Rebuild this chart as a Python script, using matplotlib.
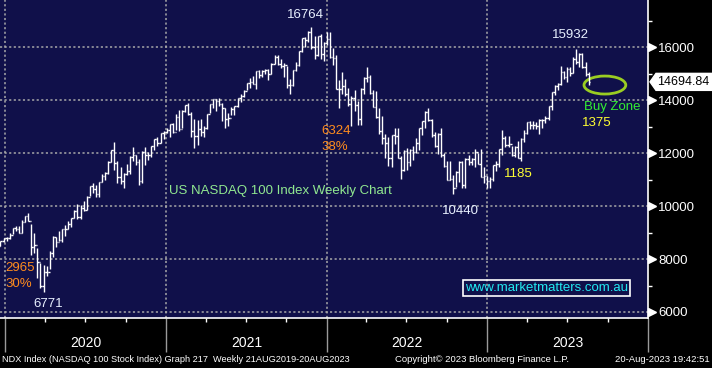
import numpy as np
import pandas as pd
import matplotlib
matplotlib.use('Agg')
import matplotlib.pyplot as plt
import matplotlib.dates as mdates
import matplotlib.transforms as mtransforms
from matplotlib.patches import Ellipse, Polygon

plt.rcParams['font.family'] = ['Liberation Sans', 'DejaVu Sans']

# weekly NDX bars (week ending Friday), high / low / close
high_2019 = [8500, 8690, 8780]
low_2019 = [8340, 8480, 8660]
close_2019 = [8475, 8666, 8778]

high_2020 = [8850, 8970, 9180, 9260, 9250, 9460, 9620, 9740, 9320, 9000, 8400, 7850, 7780,
             7750, 8300, 8870, 8850, 9070, 9150, 9290, 9420, 9560, 9840, 10090, 10060, 10180,
             10370, 10770, 10890, 10780, 10910, 11210, 11290, 11700, 12130, 12440, 11700, 11470,
             11240, 11580, 11880, 12250, 11950, 11790, 12100, 12230, 12060, 12270, 12530, 12600,
             12770, 12850]
low_2020 = [8690, 8740, 8930, 9070, 8980, 8970, 9390, 9420, 8160, 8220, 7280, 6910, 6771,
            7360, 7640, 8090, 8470, 8700, 8660, 8890, 9140, 9200, 9540, 9500, 9500, 9830,
            9850, 10370, 10500, 10360, 10340, 10900, 10990, 11210, 11680, 11350, 10880, 10850,
            10680, 11170, 11230, 11720, 11560, 10790, 10880, 11550, 11750, 11870, 12120, 12270,
            12400, 12550]
close_2020 = [8794, 8912, 9173, 9142, 8991, 9402, 9623, 9446, 8462, 8530, 7873, 6994, 7502,
              7528, 8230, 8832, 8634, 8718, 9121, 9152, 9325, 9555, 9814, 9588, 9946, 9849,
              10341, 10767, 10646, 10461, 10905, 11139, 11248, 11665, 12110, 11626, 11087, 10936,
              11201, 11326, 11853, 11924, 11666, 10937, 12042, 11938, 11939, 12258, 12528, 12378,
              12755, 12805]

high_2021 = [12940, 13110, 13130, 13480, 13620, 13620, 13810, 13880, 13540, 13300, 13240, 13290,
             13010, 13480, 13850, 14060, 14050, 14090, 13880, 13700, 13500, 13750, 13790, 14080,
             14220, 14400, 14660, 14830, 14920, 15120, 15160, 15130, 15170, 15190, 15400, 15700,
             15700, 15560, 15420, 15290, 14790, 15150, 15450, 15860, 16360, 16400, 16600, 16764,
             16440, 16420, 16500, 16200, 16570]
low_2021 = [12750, 12600, 12780, 12860, 12850, 12940, 13560, 13430, 12600, 12210, 12300, 12650,
            12600, 12900, 13510, 13700, 13600, 13790, 13200, 12950, 13020, 13450, 13450, 13750,
            13950, 14130, 14370, 14480, 14600, 14440, 14850, 14880, 14990, 14780, 14980, 15360,
            15350, 15230, 14870, 14450, 14250, 14530, 15110, 15280, 15810, 16030, 16200, 15950,
            15560, 15690, 15560, 15480, 16100]
close_2021 = [12888, 13105, 12803, 13366, 12925, 13612, 13807, 13474, 12842, 12668, 12920, 12816,
              12942, 13480, 13845, 14041, 13968, 13860, 13720, 13310, 13345, 13687, 13770, 14069,
              14142, 14360, 14639, 14692, 14628, 15110, 14959, 15100, 15145, 15010, 15370, 15653,
              15368, 15300, 15314, 14566, 14580, 15146, 15335, 15850, 16344, 16274, 16573, 16026,
              15712, 16410, 15750, 16160, 16320]

high_2022 = [16580, 15960, 15700, 14750, 15050, 14800, 14450, 14150, 14380, 13960, 14450, 14860,
             15270, 14950, 14380, 14350, 13700, 13420, 12720, 12630, 12700, 12950, 12950, 11880,
             12130, 12200, 12160, 12260, 12590, 12970, 13230, 13580, 13720, 13280, 12810, 12780,
             12950, 12010, 11720, 11690, 11170, 11320, 11700, 11700, 11830, 11920, 11820, 12170,
             12000, 12170, 11470, 11140]
low_2022 = [15580, 15350, 14430, 13725, 14250, 14150, 13780, 13020, 13590, 13050, 13050, 14250,
            14700, 14230, 13730, 13340, 12720, 12350, 11830, 11510, 11470, 12330, 11820, 11040,
            11320, 11370, 11500, 11750, 12000, 12130, 12690, 12970, 13220, 12610, 12230, 11970,
            11860, 11460, 10970, 10990, 10440, 10720, 10920, 10700, 10690, 11570, 11560, 11460,
            11580, 11100, 10890, 10680]
close_2022 = [15616, 15612, 14439, 14440, 14525, 14253, 13863, 14080, 13838, 13301, 14420, 14850,
              14862, 14289, 13752, 13358, 12855, 12580, 12387, 11835, 12682, 12642, 11830, 11347,
              12095, 11663, 12122, 12050, 12390, 12948, 13208, 13560, 13250, 12670, 12272, 12740,
              11930, 11500, 10971, 11040, 10694, 11282, 11666, 10798, 11767, 11677, 11786, 12031,
              11605, 11111, 11126, 10940]

high_2023 = [11110, 11570, 11720, 12170, 12880, 12640, 12650, 12290, 12280, 12470, 12570, 12870,
             13190, 13200, 13200, 13170, 13280, 13300, 13400, 13800, 14300, 14580, 14660, 15280,
             15090, 15240, 15260, 15620, 15932, 15800, 15800, 15450, 15050]
low_2023 = [10700, 10950, 11320, 11480, 11920, 12240, 12230, 11910, 11840, 11830, 11700, 12420,
            12740, 12900, 12910, 12930, 12730, 12960, 13150, 13260, 13640, 14200, 14380, 14590,
            14810, 14700, 14920, 15020, 15370, 15240, 15210, 14920, 14560]
close_2023 = [11040, 11541, 11574, 12166, 12573, 12305, 12359, 11950, 12250, 11830, 12520, 12768,
              13181, 13062, 13080, 13012, 13246, 13240, 13340, 13787, 14298, 14546, 14620, 15080,
              14890, 15180, 15035, 15565, 15460, 15750, 15275, 14990, 14694.84]

first_open = 8400
last_price = 14694.84

highs = np.array(high_2019 + high_2020 + high_2021 + high_2022 + high_2023, dtype=float)
lows = np.array(low_2019 + low_2020 + low_2021 + low_2022 + low_2023, dtype=float)
closes = np.array(close_2019 + close_2020 + close_2021 + close_2022 + close_2023, dtype=float)
opens = np.r_[first_open, closes[:-1]]
dates = pd.date_range(end='2023-08-18', periods=len(closes), freq='W-FRI')

navy = '#10104a'
grid_col = '#a8a8a8'

fig = plt.figure(figsize=(7.12, 3.68), dpi=100, facecolor='black')
ax = fig.add_axes([0, 1 - 318 / 368, 648 / 712, 318 / 368])
ax.set_facecolor(navy)

x = mdates.date2num(dates) + 1
ax.vlines(x, lows, highs, color='white', lw=1.0)
ax.hlines(opens, x - 3.2, x, color='white', lw=1.0)
ax.hlines(closes, x, x + 3.2, color='white', lw=1.0)

ax.set_xlim(mdates.date2num(pd.Timestamp('2019-12-20')), mdates.date2num(pd.Timestamp('2024-01-01')))
ax.set_ylim(5773, 17788)

# grid
for yv in range(6000, 17000, 2000):
    ax.axhline(yv, color=grid_col, lw=1.1, ls=(0, (1.4, 1.6)), zorder=0)
for yr in [2020, 2021, 2022, 2023]:
    ax.axvline(mdates.date2num(pd.Timestamp(f'{yr}-01-01')), color=grid_col, lw=1.1,
               ls=(0, (1.4, 1.6)), zorder=0)

# spines
for s in ['left', 'top']:
    ax.spines[s].set_visible(False)
ax.spines['right'].set_color('white')
ax.spines['bottom'].set_color('white')
ax.spines['right'].set_linewidth(1.2)
ax.spines['bottom'].set_linewidth(1.2)

# x axis
ax.xaxis.set_major_locator(mdates.YearLocator())
ax.xaxis.set_minor_locator(mdates.MonthLocator(bymonth=[1, 4, 7, 10]))
ax.xaxis.set_major_formatter(plt.NullFormatter())
ax.tick_params(axis='x', which='major', length=24.5, width=1.0, color='#9a9a9a')
ax.tick_params(axis='x', which='minor', length=3, width=1.0, color='white')
xlab_tr = mtransforms.blended_transform_factory(ax.transData, ax.transAxes)
for yr in [2020, 2021, 2022, 2023]:
    ax.text(mdates.date2num(pd.Timestamp(f'{yr}-07-02')), -0.079, str(yr), transform=xlab_tr,
            ha='center', va='center', color='white', fontsize=10)

# y axis on right
ax.yaxis.tick_right()
ax.set_yticks(range(6000, 17000, 2000))
ax.set_yticks(range(7000, 18000, 2000), minor=True)
ax.tick_params(axis='y', which='major', length=0, pad=7.5, labelsize=9.5, labelcolor='white')
ax.tick_params(axis='y', which='minor', length=3, width=1.0, color='white')
ytr = mtransforms.blended_transform_factory(ax.transAxes, ax.transData) + \
    mtransforms.ScaledTranslation(3.5 / 100, 0, fig.dpi_scale_trans)
ax.plot([1.0] * 6, list(range(6000, 17000, 2000)), ls='none', marker='>', ms=5.5,
        color='white', mec='white', transform=ytr, clip_on=False)

# annotations
def d(s):
    return mdates.date2num(pd.Timestamp(s))

ax.text(d('2021-11-14'), 17220, '16764', color='#e8f0ff', fontsize=9.5, ha='center', va='center')
ax.text(d('2023-07-08'), 16465, '15932', color='#e8f0ff', fontsize=9.5, ha='center', va='center')
ax.text(d('2021-12-19'), 12840, '6324', color='#ff8c1e', fontsize=9.5, ha='left', va='center')
ax.text(d('2021-12-19'), 12235, '38%', color='#ff8c1e', fontsize=9.5, ha='left', va='center')
ax.text(d('2020-01-01'), 7680, '2965', color='#ff8c1e', fontsize=9.5, ha='left', va='center')
ax.text(d('2020-01-01'), 7055, '30%', color='#ff8c1e', fontsize=9.5, ha='left', va='center')
ax.text(d('2020-03-04'), 6300, '6771', color='#e8f0ff', fontsize=9.5, ha='left', va='center')
ax.text(d('2022-09-20'), 9815, '10440', color='#e8f0ff', fontsize=9.5, ha='left', va='center')
ax.text(d('2023-02-08'), 11210, '1185', color='#ffff33', fontsize=9.5, ha='left', va='center')
ax.text(d('2023-08-08'), 13755, 'Buy Zone', color='#33ee33', fontsize=9.5, ha='left', va='center')
ax.text(d('2023-08-04'), 13130, '1375', color='#ffff33', fontsize=9.5, ha='left', va='center')
ax.text(d('2021-01-07'), 10580, 'US NASDAQ 100 Index Weekly Chart', color='#90e890',
        fontsize=9.5, ha='left', va='center')
ax.text(d('2023-05-15'), 6905, 'www.marketmatters.com.au', color='#22e8f0', fontsize=9.5,
        ha='center', va='center',
        bbox=dict(boxstyle='square,pad=0.18', fc='none', ec='white', lw=1.2))
ax.add_patch(Ellipse((d('2023-09-25'), 14575), 95, 680, fill=False, ec='#9acd22', lw=2.0))

# last price tag
fig.canvas.draw()
ty = ax.transData.transform((0, last_price))[1]
tag = Polygon([(650, ty), (656, ty + 8.5), (712, ty + 8.5), (712, ty - 8.5), (656, ty - 8.5)],
              closed=True, fc='white', ec='white', transform=None)
fig.patches.append(tag)
fig.text(657 / 712, ty / 368, f'{last_price:.2f}', color='black', fontsize=9,
         ha='left', va='center')

# footer
fig.text(2 / 712, 8 / 368, 'NDX Index (NASDAQ 100 Stock Index) Graph 217  Weekly 21AUG2019-20AUG2023',
         color='white', fontsize=6.55, ha='left', va='center')
fig.text(395 / 712, 8 / 368, 'Copyright\u00a9 2023 Bloomberg Finance L.P.',
         color='white', fontsize=6.8, ha='left', va='center')
fig.text(710 / 712, 8 / 368, '20-Aug-2023 19:42:51', color='white', fontsize=6.8,
         ha='right', va='center')

plt.savefig('out.png', dpi=100, facecolor='black')
